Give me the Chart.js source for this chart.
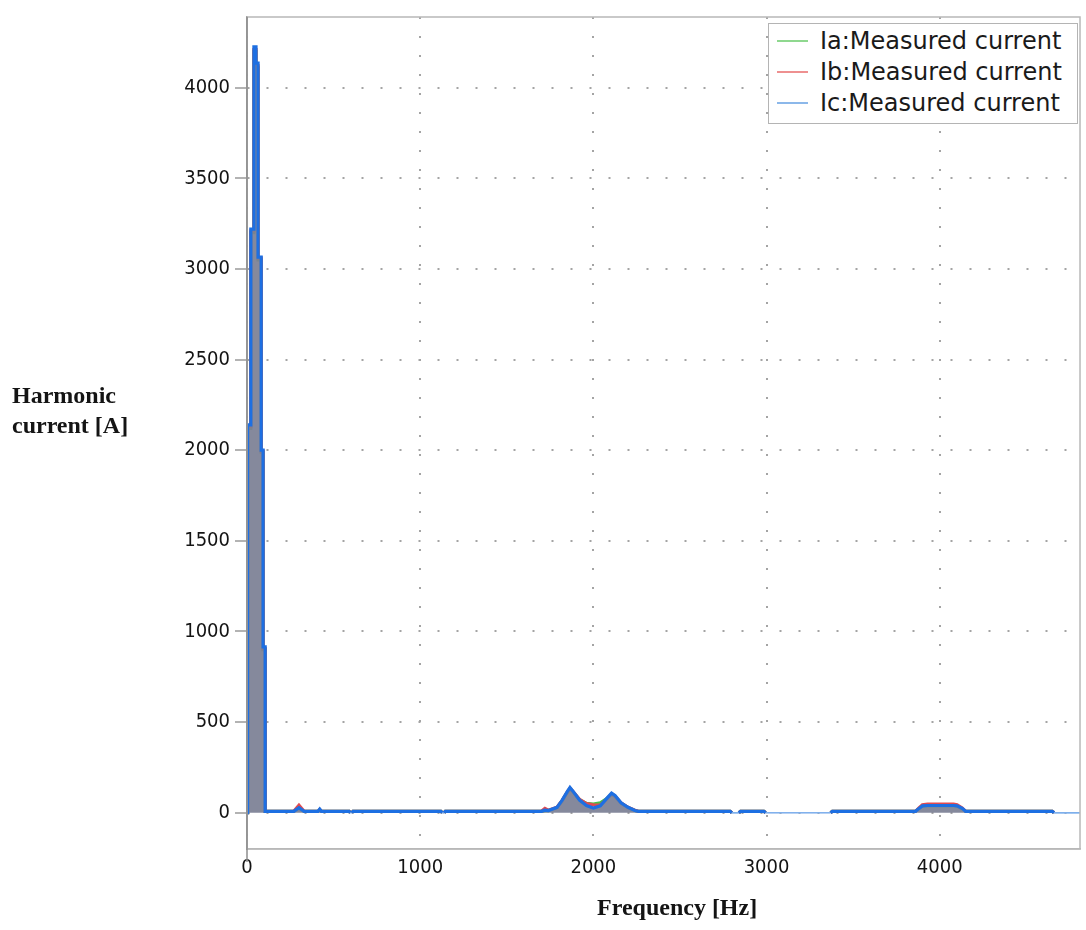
<!DOCTYPE html>
<html>
<head>
<meta charset="utf-8">
<script src="https://cdn.jsdelivr.net/npm/chart.js@4.4.1/dist/chart.umd.min.js"></script>
<style>
  html, body { margin: 0; padding: 0; background: #ffffff; }
  #wrap { position: relative; width: 1086px; height: 930px; overflow: hidden; }
  #spec { position: absolute; left: 0; top: 0; }
  .axis-title { position: absolute; font-family: "Liberation Serif", "DejaVu Serif", serif; font-weight: bold; font-size: 24px; color: #141414; line-height: 30px; white-space: nowrap; }
  #ytitle { left: 12px; top: 380px; }
  #xtitle { left: 597px; top: 892px; }
  #legend { position: absolute; left: 768px; top: 23px; width: 310px; height: 101px; border: 1.5px solid #b4b4b4; background: #ffffff; box-sizing: border-box; }
  .lg-row { position: absolute; left: 8px; height: 31px; display: flex; align-items: center; font-family: "DejaVu Sans", Verdana, sans-serif; font-size: 24px; color: #1a1a1a; white-space: nowrap; }
  .lg-line { width: 31px; height: 2px; margin-right: 12px; }
</style>
</head>
<body>
<div id="wrap">
  <canvas id="spec" width="1086" height="930"></canvas>
  <div id="ytitle" class="axis-title">Harmonic<br>current [A]</div>
  <div id="xtitle" class="axis-title">Frequency [Hz]</div>
  <div id="legend"></div>
</div>
<script>
// Harmonic spectrum of the three phase currents (A) against frequency (Hz).
const freqHz = [
  0, 0, 5, 5, 22, 22, 40, 40, 52, 52, 64, 64, 82, 82, 93, 93, 105, 105,
  270, 300, 330,
  410, 420, 430,
  590, 597, 605, 612,
  1120, 1128, 1138, 1145,
  1700, 1720, 1740, 1790, 1820, 1850, 1865, 1880, 1920, 1960, 2000, 2040, 2080, 2105, 2125, 2160, 2200, 2240, 2260,
  2790, 2800, 2840, 2850,
  2985, 2995, 3370, 3380,
  3860, 3880, 3900, 3930, 4080, 4100, 4130, 4150,
  4650, 4660, 4810
];

const iaAmps = [
  0, 1050, 1050, 2120, 2120, 3200, 3200, 4200, 4200, 4110, 4110, 3050, 3050, 1990, 1990, 900, 900, 8,
  8, 24, 8,
  8, 16, 8,
  8, 0, 0, 8,
  8, 0, 0, 8,
  8, 12, 12, 28, 66, 112, 132, 118, 72, 52, 48, 55, 80, 100, 90, 52, 28, 12, 8,
  8, 0, 0, 8,
  8, 0, 0, 8,
  8, 22, 36, 38, 38, 36, 22, 8,
  8, 0, 0
];

const ibAmps = [
  0, 1060, 1060, 2130, 2130, 3210, 3210, 4210, 4210, 4120, 4120, 3060, 3060, 1995, 1995, 905, 905, 8,
  8, 42, 8,
  8, 18, 8,
  8, 0, 0, 8,
  8, 0, 0, 8,
  8, 24, 14, 30, 68, 115, 136, 120, 74, 50, 44, 42, 78, 104, 92, 54, 30, 14, 8,
  8, 0, 0, 8,
  8, 0, 0, 8,
  8, 26, 44, 48, 48, 44, 26, 8,
  8, 0, 0
];

const icAmps = [
  0, 1070, 1070, 2140, 2140, 3220, 3220, 4225, 4225, 4135, 4135, 3065, 3065, 2000, 2000, 915, 915, 8,
  8, 28, 8,
  8, 20, 8,
  8, 0, 0, 8,
  8, 0, 0, 8,
  8, 14, 12, 30, 70, 118, 140, 122, 70, 40, 26, 38, 82, 108, 95, 55, 30, 12, 8,
  8, 0, 0, 8,
  8, 0, 0, 8,
  8, 24, 38, 40, 40, 38, 24, 8,
  8, 0, 0
];

const seriesLabels = ['Ia:Measured current', 'Ib:Measured current', 'Ic:Measured current'];
const yTickValues = [0, 500, 1000, 1500, 2000, 2500, 3000, 3500, 4000];
const xTickValues = [0, 1000, 2000, 3000, 4000];

const lineColors = ['#46c046', '#e04a50', '#1d6fe2'];
const legendColors = ['#8fd88f', '#ee9090', '#8cb8ea'];

function toPoints(values) {
  return values.map((v, i) => ({ x: freqHz[i], y: v }));
}

// Thin stroke where a stretch of the spectrum sits exactly at zero.
function isFlatZero(ctx) {
  return ctx.p0.parsed.y === 0 && ctx.p1.parsed.y === 0;
}

function makeSet(idx, values, fill) {
  return {
    label: seriesLabels[idx],
    data: toPoints(values),
    borderColor: lineColors[idx],
    backgroundColor: fill ? 'rgba(124,128,148,0.93)' : 'rgba(0,0,0,0)',
    fill: fill ? 'origin' : false,
    borderWidth: 3.2,
    pointRadius: 0,
    tension: 0,
    order: 2 - idx,
    segment: {
      borderWidth: c => isFlatZero(c) ? 1.2 : 3.2,
      borderColor: c => isFlatZero(c) ? '#7fb0ec' : undefined
    }
  };
}

// Plot frame: grey box round the data area and the y axis carried a little below it.
const framePlugin = {
  id: 'frame',
  afterDraw(chart) {
    const a = chart.chartArea;
    const c = chart.ctx;
    c.save();
    c.strokeStyle = '#b8b8b8';
    c.lineWidth = 1.5;
    c.strokeRect(a.left, a.top, a.right - a.left, a.bottom - a.top);
    c.strokeStyle = '#8c8c8c';
    c.beginPath();
    c.moveTo(a.left, a.top);
    c.lineTo(a.left, a.bottom + 13);
    c.stroke();
    c.restore();
  }
};

const tickFont = { family: '"DejaVu Sans Condensed", "DejaVu Sans", sans-serif', size: 20 };
const plainNumber = v => String(v);

new Chart(document.getElementById('spec'), {
  type: 'line',
  data: {
    datasets: [makeSet(0, iaAmps, false), makeSet(1, ibAmps, false), makeSet(2, icAmps, true)]
  },
  plugins: [framePlugin],
  options: {
    responsive: false,
    animation: false,
    events: [],
    layout: { padding: { top: 8, right: 6, left: 0, bottom: 0 } },
    plugins: { legend: { display: false }, tooltip: { enabled: false } },
    scales: {
      x: {
        type: 'linear',
        min: 0,
        max: 4810,
        afterBuildTicks: s => { s.ticks = xTickValues.map(v => ({ value: v })); },
        afterFit: s => { s.height = 81; },
        ticks: { color: '#141414', font: tickFont, padding: 7, maxRotation: 0, callback: plainNumber },
        grid: {
          color: '#a4a4a4',
          lineWidth: 2,
          tickLength: 0,
          drawTicks: false
        },
        border: { display: true, color: '#b8b8b8', width: 1.5, dash: [2, 17] }
      },
      y: {
        type: 'linear',
        min: -200,
        max: 4390,
        afterBuildTicks: s => { s.ticks = yTickValues.map(v => ({ value: v })); },
        afterFit: s => { s.width = 247; },
        ticks: { color: '#141414', font: tickFont, padding: 5, callback: plainNumber },
        grid: {
          color: '#a4a4a4',
          lineWidth: 2,
          tickLength: 12,
          tickColor: '#9a9a9a',
          tickWidth: 1.5,
          tickBorderDash: []
        },
        border: { display: true, color: '#8c8c8c', width: 1.5, dash: [2, 17] }
      }
    }
  }
});

// Legend box listing the three measured phases.
const legendEl = document.getElementById('legend');
seriesLabels.forEach((label, i) => {
  const row = document.createElement('div');
  row.className = 'lg-row';
  row.style.top = (1 + i * 31) + 'px';
  const sw = document.createElement('span');
  sw.className = 'lg-line';
  sw.style.background = legendColors[i];
  const tx = document.createElement('span');
  tx.textContent = label;
  row.appendChild(sw);
  row.appendChild(tx);
  legendEl.appendChild(row);
});
</script>
</body>
</html>
